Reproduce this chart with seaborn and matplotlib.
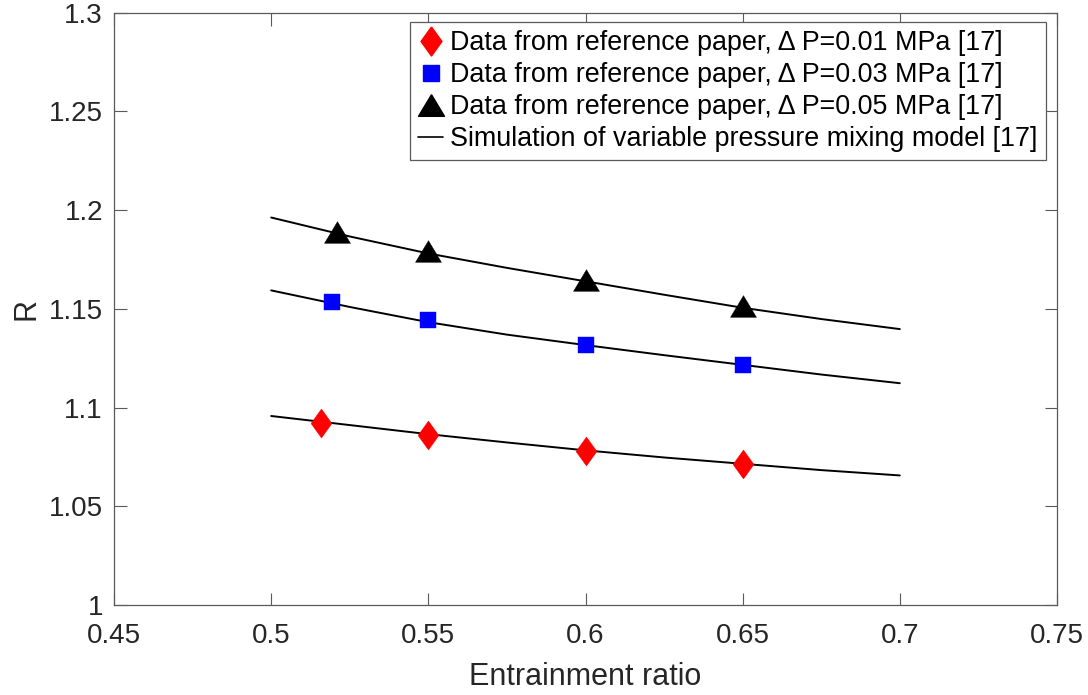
import numpy as np
import pandas as pd
import matplotlib
matplotlib.use("Agg")
import matplotlib.pyplot as plt
from matplotlib.ticker import FuncFormatter, MultipleLocator
from matplotlib.lines import Line2D
import seaborn as sns

# ---- data ----
er_dp1 = [0.516, 0.55, 0.60, 0.65]
r_dp1 = [1.0924, 1.0860, 1.0782, 1.0715]
er_dp3 = [0.5195, 0.55, 0.60, 0.65]
r_dp3 = [1.1533, 1.1444, 1.1319, 1.1216]
er_dp5 = [0.5208, 0.55, 0.60, 0.65]
r_dp5 = [1.1890, 1.1793, 1.1645, 1.1513]

sim_er = [0.5, 0.525, 0.55, 0.575, 0.6, 0.625, 0.65, 0.675, 0.7]
sim_dp1 = [1.0957, 1.0911, 1.0865, 1.0823, 1.0783, 1.0747, 1.0715, 1.0683, 1.0656]
sim_dp3 = [1.1593, 1.1509, 1.1432, 1.1369, 1.1316, 1.1265, 1.1216, 1.1167, 1.1123]
sim_dp5 = [1.1962, 1.1866, 1.1780, 1.1707, 1.1639, 1.1571, 1.1505, 1.1448, 1.1397]

labels = [
    "Data from reference paper, \u0394 P=0.01 MPa [17]",
    "Data from reference paper, \u0394 P=0.03 MPa [17]",
    "Data from reference paper, \u0394 P=0.05 MPa [17]",
    "Simulation of variable pressure mixing model [17]",
]
x_label = "Entrainment ratio"
y_label = "R"

# ---- style ----
sns.set_theme(style="white")
plt.rcParams["font.family"] = ["Liberation Sans", "DejaVu Sans"]
txt = "#262626"
axc = "#5a5a5a"

fig = plt.figure(figsize=(10.88, 6.95), dpi=100)
ax = fig.add_axes([0.1048, 0.1295, 0.8667, 0.8525])

diamond = [(0, 1), (0.72, 0), (0, -1), (-0.72, 0), (0, 1)]
triangle = [(0, 1), (1.2, -1), (-1.2, -1), (0, 1)]

sim_df = pd.DataFrame({
    "er": sim_er * 3,
    "R": sim_dp1 + sim_dp3 + sim_dp5,
    "grp": ["a"] * len(sim_er) + ["b"] * len(sim_er) + ["c"] * len(sim_er),
})
sns.lineplot(data=sim_df, x="er", y="R", units="grp", estimator=None,
             color="black", linewidth=1.4, ax=ax, legend=False, sort=False)

sns.scatterplot(x=er_dp1, y=r_dp1, marker=diamond, s=20.9 ** 2, color="red",
                edgecolor="red", linewidth=0.3, ax=ax, zorder=3)
sns.scatterplot(x=er_dp3, y=r_dp3, marker="s", s=12.2 ** 2, color="blue",
                edgecolor="blue", linewidth=0.3, ax=ax, zorder=3)
sns.scatterplot(x=er_dp5, y=r_dp5, marker=triangle, s=18.7 ** 2, color="black",
                edgecolor="black", linewidth=0.3, ax=ax, zorder=3)

ax.set_xlim(0.45, 0.75)
ax.set_ylim(1.0, 1.3)
ax.xaxis.set_major_locator(MultipleLocator(0.05))
ax.yaxis.set_major_locator(MultipleLocator(0.05))
fmt = FuncFormatter(lambda v, p: "%g" % round(v, 4))
ax.xaxis.set_major_formatter(fmt)
ax.yaxis.set_major_formatter(fmt)

ax.tick_params(axis="both", which="major", direction="in", length=9, width=0.8,
               colors=axc, labelcolor=txt, labelsize=20, top=True, right=True,
               bottom=True, left=True)
ax.tick_params(axis="x", pad=13)
ax.tick_params(axis="y", pad=8)
for s in ax.spines.values():
    s.set_visible(True)
    s.set_color(axc)
    s.set_linewidth(0.9)

ax.set_xlabel(x_label, fontsize=22, color=txt, labelpad=9)
ax.set_ylabel(y_label, fontsize=22, color=txt, labelpad=5)

handles = [
    Line2D([], [], linestyle="", marker=diamond, markersize=20.9, color="red", markeredgecolor="red"),
    Line2D([], [], linestyle="", marker="s", markersize=12.2, color="blue", markeredgecolor="blue"),
    Line2D([], [], linestyle="", marker=triangle, markersize=18.7, color="black", markeredgecolor="black"),
    Line2D([], [], color="black", linewidth=1.2),
]
leg = ax.legend(handles, labels, loc="upper right", bbox_to_anchor=(0.988, 0.9835),
                fontsize=19.4, frameon=True, fancybox=False, framealpha=1,
                edgecolor=axc, borderpad=0.3, labelspacing=0.22, handlelength=0.95,
                handletextpad=0.25, borderaxespad=0.0)
leg.get_frame().set_linewidth(0.9)
for t in leg.get_texts():
    t.set_color("black")

fig.savefig("out.png", dpi=100)
